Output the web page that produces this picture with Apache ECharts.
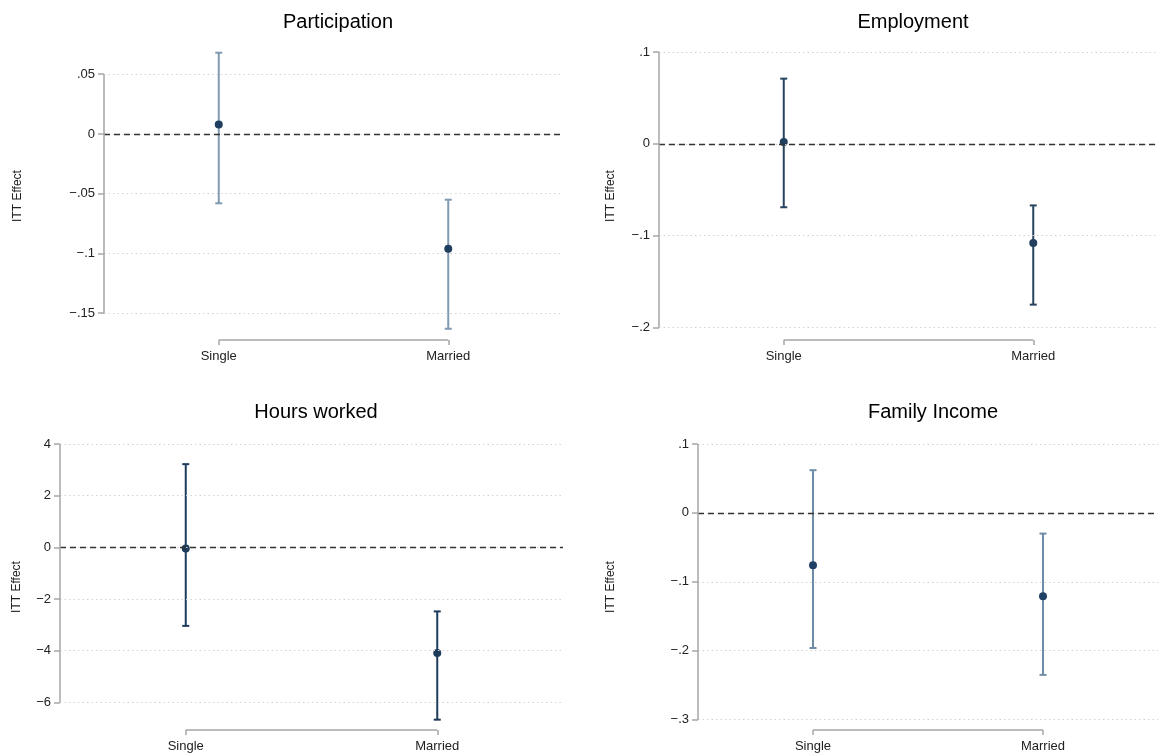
<!DOCTYPE html>
<html>
<head>
<meta charset="utf-8">
<style>
  html, body { margin: 0; padding: 0; background: #ffffff; }
  #chart { width: 1158px; height: 754px; }
</style>
<script src="https://cdn.jsdelivr.net/npm/echarts@6/dist/echarts.min.js"></script>
</head>
<body>
<div id="chart"></div>
<script>
// Groups on the x axis
const categories = ['Single', 'Married'];

// Panel titles
const panelTitles = ['Participation', 'Employment', 'Hours worked', 'Family Income'];

// Point estimates and 95% confidence bounds (Single, Married)
const participationEst  = [0.008, -0.096];
const participationLow  = [-0.058, -0.163];
const participationHigh = [0.068, -0.055];

const employmentEst  = [0.002, -0.108];
const employmentLow  = [-0.069, -0.175];
const employmentHigh = [0.071, -0.067];

const hoursEst  = [-0.04, -4.09];
const hoursLow  = [-3.04, -6.67];
const hoursHigh = [3.22, -2.48];

const incomeEst  = [-0.076, -0.121];
const incomeLow  = [-0.196, -0.235];
const incomeHigh = [0.062, -0.030];

// Y tick values and their printed labels
const participationTicks = [0.05, 0, -0.05, -0.1, -0.15];
const participationTickLabels = ['.05', '0', '\u2212.05', '\u2212.1', '\u2212.15'];
const employmentTicks = [0.1, 0, -0.1, -0.2];
const employmentTickLabels = ['.1', '0', '\u2212.1', '\u2212.2'];
const hoursTicks = [4, 2, 0, -2, -4, -6];
const hoursTickLabels = ['4', '2', '0', '\u22122', '\u22124', '\u22126'];
const incomeTicks = [0.1, 0, -0.1, -0.2, -0.3];
const incomeTickLabels = ['.1', '0', '\u2212.1', '\u2212.2', '\u2212.3'];

const FONT = 'Liberation Sans, Arial, Helvetica, sans-serif';

// Layout and styling of each panel
const panels = [
  { est: participationEst, low: participationLow, high: participationHigh,
    ticks: participationTicks, tickLabels: participationTickLabels,
    yMin: -0.1724, yMax: 0.0686,
    grid: { left: 104, width: 459, top: 52, height: 288 },
    nameGap: 80, titleX: 333, titleTop: 7,
    barColor: '#7f9ab2', pointColor: '#1f3d5e' },
  { est: employmentEst, low: employmentLow, high: employmentHigh,
    ticks: employmentTicks, tickLabels: employmentTickLabels,
    yMin: -0.2135, yMax: 0.1,
    grid: { left: 659, width: 499, top: 52, height: 288 },
    nameGap: 42, titleX: 908, titleTop: 7,
    barColor: '#26445f', pointColor: '#22405e' },
  { est: hoursEst, low: hoursLow, high: hoursHigh,
    ticks: hoursTicks, tickLabels: hoursTickLabels,
    yMin: -7.07, yMax: 4,
    grid: { left: 60, width: 503, top: 444, height: 286 },
    nameGap: 37, titleX: 311, titleTop: 397,
    barColor: '#1d3b5a', pointColor: '#1d3b5a' },
  { est: incomeEst, low: incomeLow, high: incomeHigh,
    ticks: incomeTicks, tickLabels: incomeTickLabels,
    yMin: -0.315, yMax: 0.1,
    grid: { left: 698, width: 460, top: 444, height: 286 },
    nameGap: 81, titleX: 928, titleTop: 397,
    barColor: '#6f8da8', pointColor: '#1f4166' }
];

const grids = [], xAxes = [], yAxes = [], series = [], titles = [];

panels.forEach((p, i) => {
  grids.push(Object.assign({ containLabel: false }, p.grid));

  titles.push({
    text: panelTitles[i],
    left: p.titleX,
    top: p.titleTop,
    textAlign: 'center',
    textStyle: { fontFamily: FONT, fontSize: 20, fontWeight: 'normal', color: '#000' }
  });

  xAxes.push({
    type: 'value', gridIndex: i, min: 0.5, max: categories.length + 0.5,
    axisLine: { show: false, onZero: false },
    splitLine: { show: false },
    axisTick: { show: true, customValues: categories.map((c, j) => j + 1), length: 5,
                lineStyle: { color: '#a6a6a6', width: 1.5 } },
    axisLabel: { customValues: categories.map((c, j) => j + 1), margin: 10,
                 fontFamily: FONT, fontSize: 13, color: '#222',
                 formatter: v => categories[Math.round(v) - 1] || '' }
  });

  yAxes.push({
    type: 'value', gridIndex: i, min: p.yMin, max: p.yMax,
    name: 'ITT Effect', nameLocation: 'middle', nameRotate: 90, nameGap: p.nameGap,
    nameTextStyle: { fontFamily: FONT, fontSize: 12, color: '#222' },
    axisLine: { show: false, onZero: false },
    splitLine: { show: false },
    axisTick: { show: true, customValues: p.ticks, length: 6,
                lineStyle: { color: '#a6a6a6', width: 1.5 } },
    axisLabel: { customValues: p.ticks, margin: 9,
                 fontFamily: FONT, fontSize: 13, color: '#222',
                 formatter: v => {
                   const k = p.ticks.findIndex(t => Math.abs(t - v) < 1e-9);
                   return k >= 0 ? p.tickLabels[k] : '';
                 } }
  });

  const gridStyle = { color: '#d4d4d4', width: 1.2, type: [1.5, 3] };
  const axisStyle = { color: '#a6a6a6', width: 1.5, type: 'solid' };
  const lastTick = p.ticks[p.ticks.length - 1];

  // Confidence intervals as capped vertical bars
  series.push({
    type: 'custom', xAxisIndex: i, yAxisIndex: i, clip: false,
    data: categories.map((c, j) => [j + 1, p.low[j], p.high[j]]),
    renderItem: (params, api) => {
      const top = api.coord([api.value(0), api.value(2)]);
      const bot = api.coord([api.value(0), api.value(1)]);
      const cap = 3.5;
      const style = { stroke: p.barColor, lineWidth: 2 };
      return {
        type: 'group',
        children: [
          { type: 'line', shape: { x1: top[0], y1: top[1], x2: bot[0], y2: bot[1] }, style },
          { type: 'line', shape: { x1: top[0] - cap, y1: top[1], x2: top[0] + cap, y2: top[1] }, style },
          { type: 'line', shape: { x1: bot[0] - cap, y1: bot[1], x2: bot[0] + cap, y2: bot[1] }, style }
        ]
      };
    },
    markLine: {
      silent: true, symbol: 'none', animation: false,
      label: { show: false },
      data: [
        ...p.ticks.map(t => ({ yAxis: t, lineStyle: gridStyle })),
        { yAxis: 0, lineStyle: { color: '#333', width: 1.3, type: [6, 4] } },
        [ { coord: [0.5, p.ticks[0]], lineStyle: axisStyle }, { coord: [0.5, lastTick] } ],
        [ { coord: [1, p.yMin], lineStyle: axisStyle }, { coord: [categories.length, p.yMin] } ]
      ]
    },
    z: 3
  });

  // Point estimates
  series.push({
    type: 'scatter', xAxisIndex: i, yAxisIndex: i,
    data: categories.map((c, j) => [j + 1, p.est[j]]),
    symbol: 'circle', symbolSize: 8,
    itemStyle: { color: p.pointColor, opacity: 1 },
    z: 4
  });
});

const chart = echarts.init(document.getElementById('chart'), null, { renderer: 'canvas' });
chart.setOption({
  animation: false,
  backgroundColor: '#ffffff',
  title: titles,
  grid: grids,
  xAxis: xAxes,
  yAxis: yAxes,
  series: series
});
</script>
</body>
</html>
